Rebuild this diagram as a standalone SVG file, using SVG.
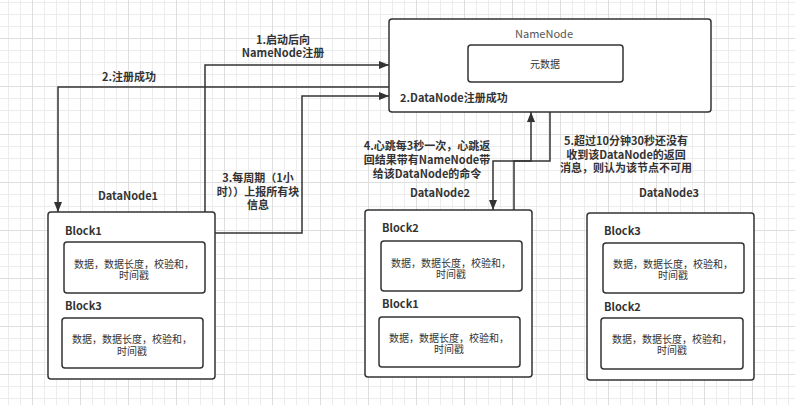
<svg xmlns="http://www.w3.org/2000/svg" width="795" height="405" viewBox="0 0 795 405">
<style>
text{font-family:"Noto Sans CJK SC","Liberation Sans",sans-serif;fill:#333;dominant-baseline:central}
.b{font-weight:bold;font-size:11px}
.t{font-size:10px;text-anchor:middle}
.c{text-anchor:middle}
.box{fill:#fff;stroke:#333;stroke-width:1.5}
.ln{fill:none;stroke:#333;stroke-width:1.5}
</style>
<defs>
<pattern id="grid" patternUnits="userSpaceOnUse" x="8" y="2" width="48" height="48">
<rect x="0" y="0" width="1" height="48" fill="#ececec"/>
<rect x="12" y="0" width="1" height="48" fill="#ececec"/>
<rect x="36" y="0" width="1" height="48" fill="#ececec"/>
<rect x="0" y="0" width="48" height="1" fill="#ececec"/>
<rect x="0" y="12" width="48" height="1" fill="#ececec"/>
<rect x="0" y="24" width="48" height="1" fill="#ececec"/>
<rect x="24" y="0" width="1" height="48" fill="#dedede"/>
<rect x="0" y="36" width="48" height="1" fill="#dedede"/>
</pattern>
<marker id="ah" viewBox="0 0 10 8" refX="10" refY="4" markerWidth="10" markerHeight="8" markerUnits="userSpaceOnUse" orient="auto">
<path d="M0,0 L10,4 L0,8 Z" fill="#333"/>
</marker>
</defs>
<rect width="795" height="405" fill="#fff"/>
<rect width="795" height="405" fill="url(#grid)"/>

<g id="connectors">
<path class="ln" d="M205,212 V65 H389" marker-end="url(#ah)"/>
<path class="ln" d="M389,87 H58 V212" marker-end="url(#ah)"/>
<path class="ln" d="M215,233 H302 V96 H389" marker-end="url(#ah)"/>
<path class="ln" d="M514,210 V161 H531 V112" marker-end="url(#ah)"/>
<path class="ln" d="M550,112 V161 H493 V210" marker-end="url(#ah)"/>
</g>

<g id="labels">
<text class="b c" x="283" y="39">1.启动后向</text>
<text class="b c" x="283" y="52">NameNode注册</text>
<text class="b c" x="129" y="76">2.注册成功</text>
<text class="b c" x="258" y="177">3.每周期（1小</text>
<text class="b c" x="258" y="191">时））上报所有块</text>
<text class="b c" x="258" y="204">信息</text>
<text class="b c" x="427" y="145">4.心跳每3秒一次，心跳返</text>
<text class="b c" x="427" y="159">回结果带有NameNode带</text>
<text class="b c" x="427" y="173">给该DataNode的命令</text>
<text class="b c" x="626" y="140">5.超过10分钟30秒还没有</text>
<text class="b c" x="626" y="154">收到该DataNode的返回</text>
<text class="b c" x="626" y="167">消息，则认为该节点不可用</text>
</g>

<g id="namenode">
<rect class="box" x="389" y="19" width="322" height="93" rx="3"/>
<text class="c" x="544" y="33" font-size="11" style="fill:#555">NameNode</text>
<rect class="box" x="468" y="45" width="155" height="37" rx="3"/>
<text class="t" x="545" y="63">元数据</text>
<text class="b" x="400" y="97">2.DataNode注册成功</text>
</g>

<g id="datanode1">
<text class="b c" x="128" y="195">DataNode1</text>
<rect class="box" x="48" y="212" width="167" height="167" rx="3"/>
<text class="b" x="65" y="230">Block1</text>
<rect class="box" x="64" y="242" width="141" height="51" rx="3"/>
<text class="t" x="134" y="263">数据，数据长度，校验和，</text>
<text class="t" x="134" y="274">时间戳</text>
<text class="b" x="65" y="305">Block3</text>
<rect class="box" x="62" y="318" width="141" height="50" rx="3"/>
<text class="t" x="132" y="338">数据，数据长度，校验和，</text>
<text class="t" x="132" y="350">时间戳</text>
</g>

<g id="datanode2">
<text class="b c" x="440" y="192">DataNode2</text>
<rect class="box" x="365" y="210" width="167" height="167" rx="3"/>
<text class="b" x="382" y="227">Block2</text>
<rect class="box" x="381" y="241" width="141" height="50" rx="3"/>
<text class="t" x="451" y="262">数据，数据长度，校验和，</text>
<text class="t" x="451" y="273">时间戳</text>
<text class="b" x="382" y="303">Block1</text>
<rect class="box" x="379" y="317" width="141" height="50" rx="3"/>
<text class="t" x="449" y="337">数据，数据长度，校验和，</text>
<text class="t" x="449" y="348">时间戳</text>
</g>

<g id="datanode3">
<text class="b c" x="669" y="192">DataNode3</text>
<rect class="box" x="587" y="213" width="167" height="167" rx="3"/>
<text class="b" x="604" y="230">Block3</text>
<rect class="box" x="603" y="243" width="141" height="50" rx="3"/>
<text class="t" x="673" y="263">数据，数据长度，校验和，</text>
<text class="t" x="673" y="274">时间戳</text>
<text class="b" x="604" y="306">Block2</text>
<rect class="box" x="601" y="318" width="142" height="51" rx="3"/>
<text class="t" x="672" y="338">数据，数据长度，校验和，</text>
<text class="t" x="672" y="349">时间戳</text>
</g>
</svg>
